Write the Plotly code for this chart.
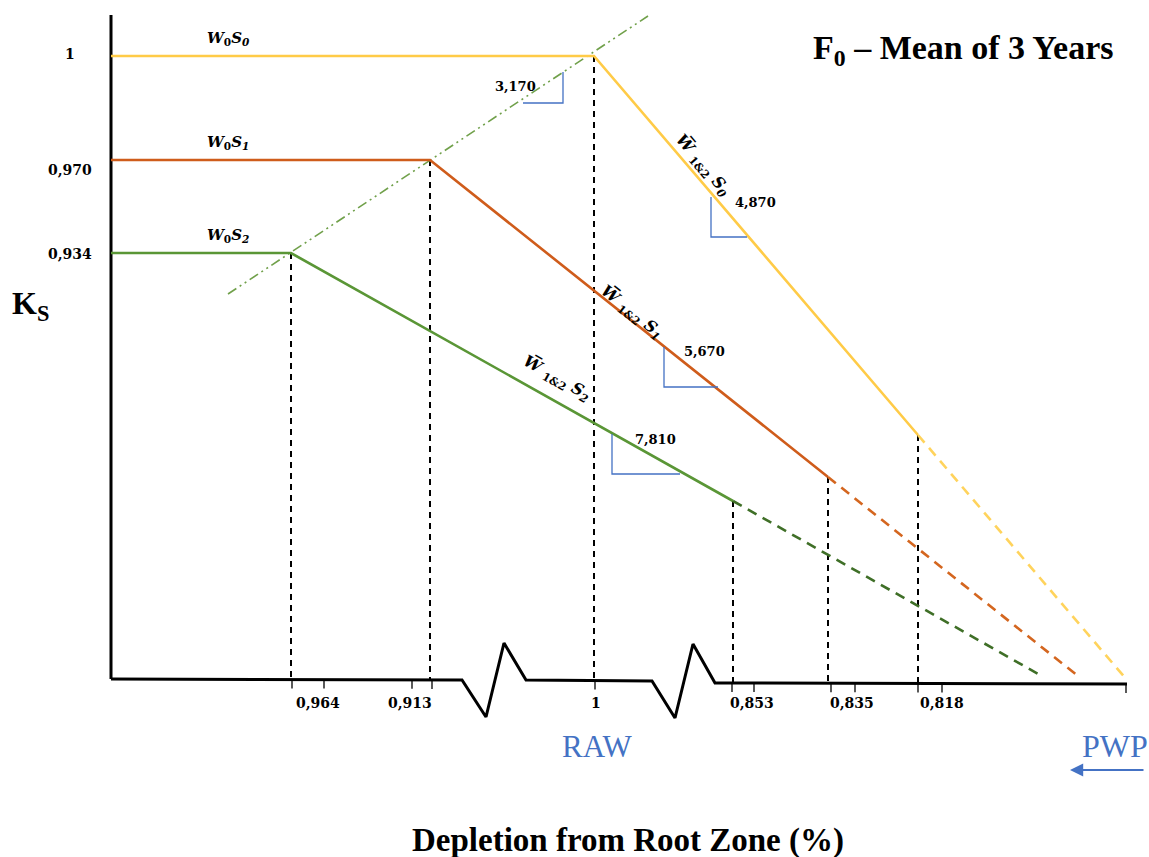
import math
import plotly.graph_objects as go

# ---- schematic data (drawing units: x to the right, y downward) ----
ks_tick_labels = ["1", "0,970", "0,934"]
ks_tick_y = [54, 170, 254]
depl_tick_labels = ["0,964", "0,913", "1", "0,853", "0,835", "0,818"]
depl_tick_x = [318, 410, 596, 752, 852, 942]
tick_marks_x = [292, 324, 412, 432, 595, 732, 754, 831, 855, 918, 942, 1126]

series_labels = ["S<sub>0</sub>", "S<sub>1</sub>", "S<sub>2</sub>"]
series_colors = ["#FFCB47", "#CF5C1B", "#5A9636"]
dash_colors = ["#FFD35C", "#D4661F", "#3F6F27"]
plateau_y = [56, 160, 253]
threshold_x = [594, 430, 291]
end_solid_x = [918, 828, 733]
end_solid_y = [435, 477, 501]
end_dash_x = [1127, 1078, 1040]
end_dash_y = [680, 676, 675]

slope_values = ["4,870", "5,670", "7,810"]
tri_x = [711, 664, 612]
tri_top = [197, 347, 434]
tri_bottom = [237, 387, 474]
tri_right = [747, 718, 680]
slope_label_x = [755, 704, 655]
slope_label_y = [202, 351, 439]
line_label_x = [703, 632, 557]
line_label_y = [165, 312, 378]

# threshold (dash-dot) line
thr_line_x = [228, 648]
thr_line_y = [294, 16]
thr_slope_label = "3,170"

# axes drawing
yaxis_x = 111
yaxis_top = 15
baseline_x = [111, 462, 486, 504, 526, 652, 675, 693, 715, 1127]
baseline_y = [679, 680, 717, 643, 680, 681, 718, 644, 683, 684]
x_origin = 111

BLUE = "#4472C4"
fig = go.Figure()

def base_y_at(x):
    for i in range(len(baseline_x) - 1):
        if baseline_x[i] <= x <= baseline_x[i + 1]:
            t = (x - baseline_x[i]) / (baseline_x[i + 1] - baseline_x[i])
            return baseline_y[i] + t * (baseline_y[i + 1] - baseline_y[i])
    return baseline_y[-1]

# vertical axis
fig.add_trace(go.Scatter(x=[yaxis_x, yaxis_x], y=[yaxis_top, baseline_y[0]], mode="lines",
                         line=dict(color="black", width=3), hoverinfo="skip"))
# baseline with breaks
fig.add_trace(go.Scatter(x=baseline_x, y=baseline_y, mode="lines",
                         line=dict(color="black", width=3), hoverinfo="skip"))
# tick marks
for tx in tick_marks_x:
    by = base_y_at(tx)
    fig.add_trace(go.Scatter(x=[tx, tx], y=[by, by + 9], mode="lines",
                             line=dict(color="black", width=1.3), hoverinfo="skip"))

# vertical dashed guides
for i in range(3):
    for (gx, gy) in [(threshold_x[i], plateau_y[i]), (end_solid_x[i], end_solid_y[i])]:
        fig.add_trace(go.Scatter(x=[gx, gx], y=[gy, base_y_at(gx)], mode="lines",
                                 line=dict(color="black", width=2, dash="6px,5px"), hoverinfo="skip"))

# threshold dash-dot line
fig.add_trace(go.Scatter(x=thr_line_x, y=thr_line_y, mode="lines",
                         line=dict(color="#70A04A", width=1.6, dash="10px,4px,2px,4px,2px,4px"),
                         hoverinfo="skip"))

# series lines
for i in range(3):
    fig.add_trace(go.Scatter(x=[x_origin, threshold_x[i], end_solid_x[i]],
                             y=[plateau_y[i], plateau_y[i], end_solid_y[i]], mode="lines",
                             line=dict(color=series_colors[i], width=2.6), hoverinfo="skip"))
    fig.add_trace(go.Scatter(x=[end_solid_x[i], end_dash_x[i]],
                             y=[end_solid_y[i], end_dash_y[i]], mode="lines",
                             line=dict(color=dash_colors[i], width=2.6, dash="10px,7px"), hoverinfo="skip"))

# slope triangles
fig.add_trace(go.Scatter(x=[563, 563, 523], y=[72, 103, 103], mode="lines",
                         line=dict(color=BLUE, width=1.3), hoverinfo="skip"))
for i in range(3):
    fig.add_trace(go.Scatter(x=[tri_x[i], tri_x[i], tri_right[i]],
                             y=[tri_top[i], tri_bottom[i], tri_bottom[i]], mode="lines",
                             line=dict(color=BLUE, width=1.3), hoverinfo="skip"))

ann = []
num_font = dict(family="DejaVu Serif", size=14, color="black")
# y tick labels
for lab, yy in zip(ks_tick_labels, ks_tick_y):
    ann.append(dict(x=70, y=yy, text="<b>" + lab + "</b>", showarrow=False,
                    xanchor="center", yanchor="middle", font=num_font))
# x tick labels
for lab, xx in zip(depl_tick_labels, depl_tick_x):
    ann.append(dict(x=xx, y=703, text="<b>" + lab + "</b>", showarrow=False,
                    xanchor="center", yanchor="middle", font=num_font))
# slope labels
small_font = dict(family="DejaVu Serif", size=13, color="black")
ann.append(dict(x=515, y=86, text="<b>" + thr_slope_label + "</b>", showarrow=False,
                xanchor="center", yanchor="middle", font=small_font))
for i in range(3):
    ann.append(dict(x=slope_label_x[i], y=slope_label_y[i], text="<b>" + slope_values[i] + "</b>",
                    showarrow=False, xanchor="center", yanchor="middle", font=small_font))
# plateau labels
for i in range(3):
    ann.append(dict(x=228, y=plateau_y[i] - 18,
                    text="<b><i>W</i><sub>0</sub><i>" + series_labels[i] + "</i></b>",
                    showarrow=False, xanchor="center", yanchor="middle",
                    font=dict(family="DejaVu Serif", size=15, color="black")))
# sloping labels
for i in range(3):
    dx = end_solid_x[i] - threshold_x[i]
    dy = end_solid_y[i] - plateau_y[i]
    ang = math.degrees(math.atan2(dy, dx))
    ann.append(dict(x=line_label_x[i], y=line_label_y[i],
                    text="<b><i>W\u0305</i> <sub>1&amp;2</sub> <i>" + series_labels[i] + "</i></b>",
                    showarrow=False, xanchor="center", yanchor="middle", textangle=ang,
                    font=dict(family="DejaVu Serif", size=16, color="black")))

# titles and labels
ann.append(dict(x=963, y=50, text="<b>F<sub>0</sub> \u2013 Mean of 3 Years</b>", showarrow=False,
                xanchor="center", yanchor="middle",
                font=dict(family="Liberation Serif", size=34, color="black")))
ann.append(dict(x=30, y=305, text="<b>K<sub>S</sub></b>", showarrow=False,
                xanchor="center", yanchor="middle",
                font=dict(family="Liberation Serif", size=32, color="black")))
ann.append(dict(x=628, y=840, text="<b>Depletion from Root Zone (%)</b>", showarrow=False,
                xanchor="center", yanchor="middle",
                font=dict(family="Liberation Serif", size=33, color="black")))
ann.append(dict(x=597, y=746, text="RAW", showarrow=False, xanchor="center", yanchor="middle",
                font=dict(family="Liberation Serif", size=31, color=BLUE)))
ann.append(dict(x=1115, y=746, text="PWP", showarrow=False, xanchor="center", yanchor="middle",
                font=dict(family="Liberation Serif", size=32, color=BLUE)))
ann.append(dict(x=1070, y=770, ax=1145, ay=770, axref="x", ayref="y", xref="x", yref="y",
                showarrow=True, arrowhead=2, arrowsize=1.2, arrowwidth=2.2, arrowcolor=BLUE, text=""))

fig.update_layout(
    width=1149, height=857, margin=dict(l=0, r=0, t=0, b=0),
    paper_bgcolor="white", plot_bgcolor="white", showlegend=False,
    xaxis=dict(range=[0, 1149], visible=False, fixedrange=True),
    yaxis=dict(range=[857, 0], visible=False, fixedrange=True),
    annotations=ann,
)
fig.write_html("out.html")
